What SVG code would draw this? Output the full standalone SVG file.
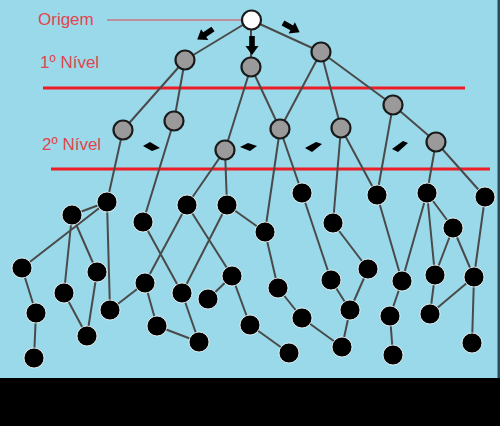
<svg xmlns="http://www.w3.org/2000/svg" width="500" height="426" viewBox="0 0 500 426">
<style>
.e{stroke:#4a4a4a;stroke-width:2;fill:none}
.b{fill:#000;stroke:#fff;stroke-width:0.8}
.g{fill:#9a9a9a;stroke:#1a1a1a;stroke-width:2.2}
.o{fill:#fff;stroke:#1a1a1a;stroke-width:2.2}
.lbl{font-family:"Liberation Sans",Arial,sans-serif;font-size:17px;fill:#e2454e}
.red{stroke:#ee1c24;stroke-width:3}
.blob{fill:#000}
</style>
<defs>
<path id="arr" d="M0,-2.8 L10,-2.8 L10,-6.5 L19,0 L10,6.5 L10,2.8 L0,2.8 Z"/>
</defs>
<rect x="0" y="0" width="500" height="378" fill="#99d9e9"/>
<rect x="0" y="378" width="500" height="48" fill="#000"/>
<rect x="497.5" y="0" width="2.5" height="378" fill="#2a4a55"/>
<g id="labels">
<text class="lbl" x="38" y="25">Origem</text>
<text class="lbl" x="40" y="68">1º Nível</text>
<text class="lbl" x="42" y="150">2º Nível</text>
<line x1="107" y1="20" x2="242" y2="20" stroke="#e2454e" stroke-width="1.2"/>
<line class="red" x1="43" y1="88" x2="465" y2="88"/>
<line class="red" x1="51" y1="169" x2="490" y2="169"/>
</g>
<g id="connectors">
<path class="e" d="M251,20L185,60M251,20L251,67M251,20L321,52
M185,60L123,130M185,60L174,121M251,67L225,150M251,67L280,129M321,52L280,129M321,52L341,128M321,52L393,105M393,105L436,142
M123,130L107,202M174,121L143,222M225,150L187,205M225,150L227,205M280,129L265,232M280,129L302,193M341,128L333,223M341,128L377,195M393,105L377,195M436,142L427,193M436,142L485,197
M107,202L72,215M107,202L22,268M72,215L64,293M72,215L97,272M107,202L110,310M22,268L36,313M36,313L34,358M64,293L87,336M97,272L87,336M110,310L145,283M145,283L157,326M145,283L187,205M143,222L182,293M187,205L232,276M227,205L182,293M227,205L265,232M232,276L208,299M232,276L250,325M182,293L199,342M157,326L199,342M265,232L278,288M278,288L302,318M250,325L289,353M302,318L342,347
M302,193L331,280M333,223L368,269M331,280L350,310M368,269L350,310M350,310L342,347M377,195L402,281M427,193L402,281M402,281L390,316M390,316L393,355M427,193L435,275M427,193L453,228M453,228L435,275M453,228L474,277M485,197L474,277M435,275L430,314M430,314L474,277M474,277L472,343"/>
</g>
<g id="arrows">
<use href="#arr" transform="translate(213,29) rotate(146)"/>
<use href="#arr" transform="translate(252,36) rotate(90)"/>
<use href="#arr" transform="translate(283,23) rotate(29)"/>
<path class="blob" d="M143,146 L150,142 L160,148 L152,151 Z"/>
<path class="blob" d="M240,147 L248,143 L257,146 L250,151 Z"/>
<path class="blob" d="M305,148 L316,142 L322,144 L312,152 Z"/>
<path class="blob" d="M392,149 L403,141 L408,143 L398,152 Z"/>
</g>
<g id="n-origin"><circle class="o" cx="251.5" cy="20" r="9.5"/></g>
<g id="n1a"><circle class="g" cx="185" cy="60" r="9.5"/></g>
<g id="n1b"><circle class="g" cx="251" cy="67" r="9.5"/></g>
<g id="n1c"><circle class="g" cx="321" cy="52" r="9.5"/></g>
<g id="n2a"><circle class="g" cx="123" cy="130" r="9.5"/></g>
<g id="n2b"><circle class="g" cx="174" cy="121" r="9.5"/></g>
<g id="n2c"><circle class="g" cx="225" cy="150" r="9.5"/></g>
<g id="n2d"><circle class="g" cx="280" cy="129" r="9.5"/></g>
<g id="n2e"><circle class="g" cx="341" cy="128" r="9.5"/></g>
<g id="n2f"><circle class="g" cx="393" cy="105" r="9.5"/></g>
<g id="n2g"><circle class="g" cx="436" cy="142" r="9.5"/></g>
<g id="n3-1"><circle class="b" cx="107" cy="202" r="10"/></g>
<g id="n3-2"><circle class="b" cx="72" cy="215" r="10"/></g>
<g id="n3-3"><circle class="b" cx="143" cy="222" r="10"/></g>
<g id="n3-4"><circle class="b" cx="22" cy="268" r="10"/></g>
<g id="n3-5"><circle class="b" cx="97" cy="272" r="10"/></g>
<g id="n3-6"><circle class="b" cx="64" cy="293" r="10"/></g>
<g id="n3-7"><circle class="b" cx="110" cy="310" r="10"/></g>
<g id="n3-8"><circle class="b" cx="145" cy="283" r="10"/></g>
<g id="n3-9"><circle class="b" cx="36" cy="313" r="10"/></g>
<g id="n3-10"><circle class="b" cx="87" cy="336" r="10"/></g>
<g id="n3-11"><circle class="b" cx="157" cy="326" r="10"/></g>
<g id="n3-12"><circle class="b" cx="34" cy="358" r="10"/></g>
<g id="n3-13"><circle class="b" cx="187" cy="205" r="10"/></g>
<g id="n3-14"><circle class="b" cx="227" cy="205" r="10"/></g>
<g id="n3-15"><circle class="b" cx="265" cy="232" r="10"/></g>
<g id="n3-16"><circle class="b" cx="182" cy="293" r="10"/></g>
<g id="n3-17"><circle class="b" cx="208" cy="299" r="10"/></g>
<g id="n3-18"><circle class="b" cx="232" cy="276" r="10"/></g>
<g id="n3-19"><circle class="b" cx="199" cy="342" r="10"/></g>
<g id="n3-20"><circle class="b" cx="250" cy="325" r="10"/></g>
<g id="n3-21"><circle class="b" cx="278" cy="288" r="10"/></g>
<g id="n3-22"><circle class="b" cx="289" cy="353" r="10"/></g>
<g id="n3-23"><circle class="b" cx="302" cy="318" r="10"/></g>
<g id="n3-24"><circle class="b" cx="302" cy="193" r="10"/></g>
<g id="n3-25"><circle class="b" cx="333" cy="223" r="10"/></g>
<g id="n3-26"><circle class="b" cx="377" cy="195" r="10"/></g>
<g id="n3-27"><circle class="b" cx="427" cy="193" r="10"/></g>
<g id="n3-28"><circle class="b" cx="485" cy="197" r="10"/></g>
<g id="n3-29"><circle class="b" cx="453" cy="228" r="10"/></g>
<g id="n3-30"><circle class="b" cx="368" cy="269" r="10"/></g>
<g id="n3-31"><circle class="b" cx="331" cy="280" r="10"/></g>
<g id="n3-32"><circle class="b" cx="402" cy="281" r="10"/></g>
<g id="n3-33"><circle class="b" cx="435" cy="275" r="10"/></g>
<g id="n3-34"><circle class="b" cx="474" cy="277" r="10"/></g>
<g id="n3-35"><circle class="b" cx="350" cy="310" r="10"/></g>
<g id="n3-36"><circle class="b" cx="390" cy="316" r="10"/></g>
<g id="n3-37"><circle class="b" cx="430" cy="314" r="10"/></g>
<g id="n3-38"><circle class="b" cx="342" cy="347" r="10"/></g>
<g id="n3-39"><circle class="b" cx="393" cy="355" r="10"/></g>
<g id="n3-40"><circle class="b" cx="472" cy="343" r="10"/></g>
</svg>
